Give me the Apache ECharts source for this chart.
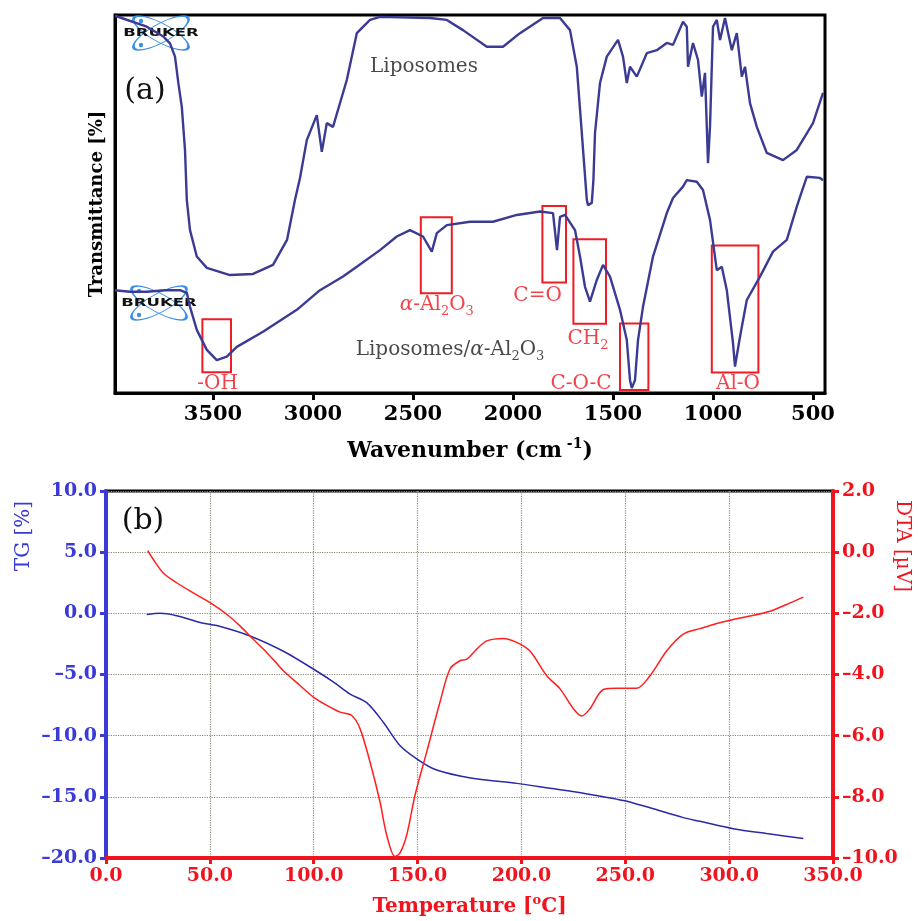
<!DOCTYPE html>
<html>
<head>
<meta charset="utf-8">
<script src="https://cdn.jsdelivr.net/npm/echarts@6/dist/echarts.min.js"></script>
<style>
html,body{margin:0;padding:0;background:#fff}
#main{width:918px;height:921px}
</style>
</head>
<body>
<div id="main"></div>
<script>
// (a) FTIR - wavenumber (cm-1) / transmittance (arb. %)
var lipoWn = [3990,3831,3748,3715,3690,3673,3656,3640,3631,3615,3581,3531,3415,3300,3200,3130,3090,3065,3031,2981,2956,2931,2900,2831,2781,2715,2665,2415,2331,2250,2131,2050,1965,1850,1765,1715,1681,1656,1631,1625,1606,1598,1590,1565,1531,1475,1450,1431,1415,1381,1331,1281,1231,1200,1150,1131,1125,1100,1075,1056,1040,1025,1015,1000,981,965,940,906,881,856,840,815,781,731,650,581,500,450];
var lipoT = [99.8,96.9,94.3,92.5,89.0,81.9,75.7,64.3,51.1,43.1,36.1,33.1,31.2,31.5,33.9,40.5,51.1,56.9,66.9,73.5,63.8,71.4,70.4,82.8,95.2,98.7,99.5,99.2,98.7,96.0,91.6,91.6,95.2,99.2,99.2,96.0,86.3,68.8,51.1,49.7,50.3,56.3,68.8,82.0,89.0,93.4,89.0,82.0,86.3,83.7,89.9,90.7,92.6,92.1,98.2,96.9,86.3,92.6,88.1,78.4,84.7,60.8,70.4,96.9,98.7,93.4,99.2,90.7,95.2,83.7,86.3,76.7,70.4,63.5,61.6,64.3,71.4,79.4];

var compWn = [3990,3915,3831,3740,3665,3631,3615,3581,3531,3481,3431,3381,3250,3081,2965,2850,2781,2665,2581,2515,2450,2406,2381,2331,2215,2100,1981,1865,1800,1780,1765,1740,1690,1665,1640,1615,1581,1550,1515,1465,1431,1415,1406,1390,1375,1350,1300,1231,1200,1150,1131,1081,1050,1015,981,956,931,900,890,865,831,765,700,631,581,565,531,465,450];
var compT = [27.2,26.8,26.8,27.2,27.2,26.5,22.8,16.7,11.4,8.7,9.6,12.2,16.2,22.0,27.2,30.8,33.4,37.8,41.4,43.1,41.4,37.4,42.3,44.4,45.3,45.3,47.1,48.0,47.6,37.8,46.6,47.1,43.1,36.1,28.1,24.2,29.9,33.9,30.8,22.0,14.0,3.4,1.3,3.4,14.0,22.8,36.1,47.6,51.6,54.6,56.3,55.9,53.7,45.8,32.5,33.4,27.2,13.2,7.0,14.9,24.6,30.8,37.4,40.5,49.3,51.9,57.2,56.9,56.3];

var ftirTicks = [3500,3000,2500,2000,1500,1000,500];

// assigned bands (boxes)
var bandWnHi = [3553,2461,1853,1698,1465,1006];
var bandWnLo = [3410,2306,1735,1535,1323,773];
var bandTHi  = [19.5,46.5,49.5,40.7,18.4,39.0];
var bandTLo  = [5.5,26.4,29.2,18.3,0.8,5.4];

// text labels in panel (a)
var labelText = ['{n|Liposomes}', '{n|Liposomes/}{i|α}{n|-Al}{s|2}{n|O}{s|3}',
  '{n|-OH}', '{i|α}{n|-Al}{s|2}{n|O}{s|3}', '{n|C=O}', '{n|CH}{s|2}', '{n|C-O-C}', '{n|Al-O}'];
var labelWn = [2445,2315,3477,2381,1877,1625,1660,875];
var labelT  = [86.2,11.4,2.5,23.3,25.7,14.3,2.4,2.4];

// (b) TG / DTA
var tgTemp = [19.6,26,34,45.3,53.3,69.3,85.4,99.8,109.4,117.5,125.5,133.5,141.5,149.6,157.6,170.4,181.7,197.7,213.8,229.8,249.1,261.9,277.9,286,302,318,335.7];
var tgVal  = [-0.1,0.0,-0.2,-0.75,-1.0,-1.85,-3.1,-4.55,-5.6,-6.6,-7.3,-8.9,-10.8,-11.9,-12.7,-13.3,-13.6,-13.9,-14.3,-14.7,-15.3,-15.9,-16.7,-17.0,-17.6,-18.0,-18.4];

var dtaTemp = [20.1,22.8,27.6,34,42,50.1,58.1,64.5,70.9,77.4,85.4,93.4,99.8,106.3,112.7,118.3,122.3,127.1,131.9,135.1,139.1,141.5,144.8,148.8,154.4,160.8,165.6,170.4,173.7,178.5,183.3,191.3,197.7,204.1,212.2,218.6,225,229,233,239.4,245.9,255.5,261.9,269.9,277.9,286,294,302,310,319.7,327.7,335.7];
var dtaVal  = [0.05,-0.24,-0.68,-1.0,-1.33,-1.65,-2.03,-2.41,-2.85,-3.28,-3.88,-4.36,-4.74,-5.01,-5.23,-5.34,-5.77,-6.86,-8.16,-9.24,-9.95,-9.84,-9.24,-7.94,-6.53,-4.9,-3.82,-3.55,-3.5,-3.17,-2.9,-2.82,-2.95,-3.23,-4.04,-4.47,-5.12,-5.36,-5.12,-4.49,-4.45,-4.45,-4.04,-3.23,-2.68,-2.5,-2.33,-2.2,-2.09,-1.93,-1.71,-1.47];

var FONT = 'DejaVu Serif';
var RED = '#f0141e';
var BLUE = '#3a3ad6';
var LOGO = '#3d8fe6';

function zip(a, b) {
	var out = [];
	for (var i = 0; i < a.length; i++) out.push([a[i], b[i]]);
	return out;
}
function fmt(v) {
	return v.toFixed(1).replace('-', '–');
}

// BRUKER logo made of two crossed ellipses and the word
function logo(x, y) {
	var ell = function(rot) {
		return {
			type: 'circle', shape: {cx: 0, cy: 0, r: 31},
			scaleX: 1, scaleY: 0.3, rotation: rot,
			style: {fill: 'none', stroke: LOGO, lineWidth: 1.6, strokeNoScale: true}
		};
	};
	return {
		type: 'group', x: x, y: y, silent: true,
		children: [
			ell(0.5), ell(-0.5),
			{type: 'circle', shape: {cx: -20, cy: -12, r: 2.2}, style: {fill: LOGO}},
			{type: 'circle', shape: {cx: -20, cy: 12, r: 2.2}, style: {fill: LOGO}},
			{type: 'text', x: 0, y: 0, scaleX: 1.5,
				style: {text: 'BRUKER', fontFamily: 'DejaVu Sans', fontWeight: 'bold', fontSize: 11,
					fill: '#111', align: 'center', verticalAlign: 'middle'}}
		]
	};
}

var bandAreas = [];
for (var i = 0; i < bandWnHi.length; i++) {
	bandAreas.push([{coord: [bandWnHi[i], bandTHi[i]]}, {coord: [bandWnLo[i], bandTLo[i]]}]);
}

var labelData = [];
for (var j = 0; j < labelText.length; j++) {
	labelData.push({
		value: [labelWn[j], labelT[j]],
		label: {color: labelText[j].indexOf('Liposomes') >= 0 ? '#1a1a1a' : RED}
	});
}

var chart = echarts.init(document.getElementById('main'));
chart.setOption({
	backgroundColor: '#fff',
	animation: false,
	grid: [
		{left: 115, top: 15, width: 710, height: 378, show: true, borderColor: '#000', borderWidth: 3},
		{left: 106, top: 491, width: 727, height: 369, show: true, borderColor: '#000', borderWidth: 3}
	],
	xAxis: [
		{
			gridIndex: 0, type: 'value', min: 440, max: 3990, inverse: true,
			axisLine: {onZero: false, lineStyle: {color: '#000', width: 3}},
			axisTick: {customValues: ftirTicks, length: 7, lineStyle: {color: '#000', width: 3}},
			axisLabel: {customValues: ftirTicks, color: '#000', fontFamily: FONT, fontWeight: 'bold', fontSize: 21, margin: 11,
				formatter: function(v) { return String(v); }},
			splitLine: {show: false},
			name: 'Wavenumber (cm{sup| -1})', nameLocation: 'middle', nameGap: 44,
			nameTextStyle: {color: '#000', fontFamily: FONT, fontWeight: 'bold', fontSize: 22, lineHeight: 28,
				rich: {sup: {fontFamily: FONT, fontWeight: 'bold', fontSize: 14, lineHeight: 14, verticalAlign: 'top'}}}
		},
		{
			gridIndex: 1, type: 'value', min: 0, max: 350, interval: 50,
			axisLine: {onZero: false, lineStyle: {color: RED, width: 4}},
			axisTick: {length: 6, lineStyle: {color: RED, width: 3}},
			axisLabel: {color: RED, fontFamily: FONT, fontWeight: 'bold', fontSize: 19, margin: 9, formatter: fmt},
			splitLine: {show: true, lineStyle: {color: '#8c8c70', type: 'dotted', width: 1.2}},
			name: 'Temperature [{sup|o}C]', nameLocation: 'middle', nameGap: 36,
			nameTextStyle: {color: RED, fontFamily: FONT, fontWeight: 'bold', fontSize: 20, lineHeight: 26,
				rich: {sup: {fontFamily: FONT, fontWeight: 'bold', fontSize: 13, lineHeight: 13, verticalAlign: 'top'}}}
		}
	],
	yAxis: [
		{
			gridIndex: 0, type: 'value', min: 0, max: 100,
			axisLine: {show: true, onZero: false, lineStyle: {color: '#000', width: 3}},
			axisTick: {show: false}, axisLabel: {show: false}, splitLine: {show: false},
			name: 'Transmittance [%]', nameLocation: 'middle', nameGap: 9,
			nameTextStyle: {color: '#000', fontFamily: FONT, fontWeight: 'bold', fontSize: 18}
		},
		{
			gridIndex: 1, type: 'value', position: 'left', min: -20, max: 10, interval: 5,
			axisLine: {show: true, onZero: false, lineStyle: {color: BLUE, width: 4}},
			axisTick: {show: true, length: 6, lineStyle: {color: BLUE, width: 3}},
			axisLabel: {color: BLUE, fontFamily: FONT, fontWeight: 'bold', fontSize: 19, margin: 9, formatter: fmt},
			splitLine: {show: true, lineStyle: {color: '#8c8c70', type: 'dotted', width: 1.2}}
		},
		{
			gridIndex: 1, type: 'value', position: 'right', min: -10, max: 2, interval: 2,
			axisLine: {show: true, onZero: false, lineStyle: {color: RED, width: 4}},
			axisTick: {show: true, length: 6, lineStyle: {color: RED, width: 3}},
			axisLabel: {color: RED, fontFamily: FONT, fontWeight: 'bold', fontSize: 19, margin: 9, formatter: fmt},
			splitLine: {show: false}
		}
	],
	graphic: [
		logo(161, 33),
		logo(159, 303),
		{type: 'text', x: 145, y: 91, silent: true,
			style: {text: '(a)', fontFamily: FONT, fontSize: 30, fill: '#111', align: 'center', verticalAlign: 'middle'}},
		{type: 'text', x: 143, y: 521, silent: true,
			style: {text: '(b)', fontFamily: FONT, fontSize: 30, fill: '#111', align: 'center', verticalAlign: 'middle'}},
		{type: 'text', x: 24, y: 536, rotation: Math.PI / 2, silent: true,
			style: {text: 'TG [%]', fontFamily: FONT, fontSize: 20, fill: BLUE, align: 'center', verticalAlign: 'middle'}},
		{type: 'text', x: 902, y: 546, rotation: -Math.PI / 2, silent: true,
			style: {text: 'DTA [µV]', fontFamily: FONT, fontSize: 20, fill: RED, align: 'center', verticalAlign: 'middle'}}
	],
	series: [
		{
			name: 'Liposomes', type: 'line', xAxisIndex: 0, yAxisIndex: 0,
			data: zip(lipoWn, lipoT), symbol: 'none',
			lineStyle: {color: '#3b3b94', width: 2.4}
		},
		{
			name: 'Liposomes/α-Al2O3', type: 'line', xAxisIndex: 0, yAxisIndex: 0,
			data: zip(compWn, compT), symbol: 'none',
			lineStyle: {color: '#3b3b94', width: 2.4},
			markArea: {
				silent: true,
				itemStyle: {color: 'rgba(0,0,0,0)', borderColor: '#ee1c24', borderWidth: 2},
				data: bandAreas
			}
		},
		{
			name: 'labels', type: 'scatter', xAxisIndex: 0, yAxisIndex: 0,
			data: labelData, symbolSize: 1, itemStyle: {color: 'rgba(0,0,0,0)'}, silent: true,
			label: {
				show: true, position: 'inside',
				formatter: function(p) { return labelText[p.dataIndex]; },
				rich: {
					n: {fontFamily: FONT, fontSize: 20, lineHeight: 26, verticalAlign: 'middle'},
					i: {fontFamily: FONT, fontSize: 20, fontStyle: 'italic', lineHeight: 26, verticalAlign: 'middle'},
					s: {fontFamily: FONT, fontSize: 13, lineHeight: 13, verticalAlign: 'bottom'}
				}
			}
		},
		{
			name: 'TG', type: 'line', xAxisIndex: 1, yAxisIndex: 1,
			data: zip(tgTemp, tgVal), symbol: 'none', smooth: 0.3,
			lineStyle: {color: '#2a2aa8', width: 1.5}
		},
		{
			name: 'DTA', type: 'line', xAxisIndex: 1, yAxisIndex: 2,
			data: zip(dtaTemp, dtaVal), symbol: 'none', smooth: 0.3,
			lineStyle: {color: '#ff1f1f', width: 1.5}
		}
	]
});
</script>
</body>
</html>
